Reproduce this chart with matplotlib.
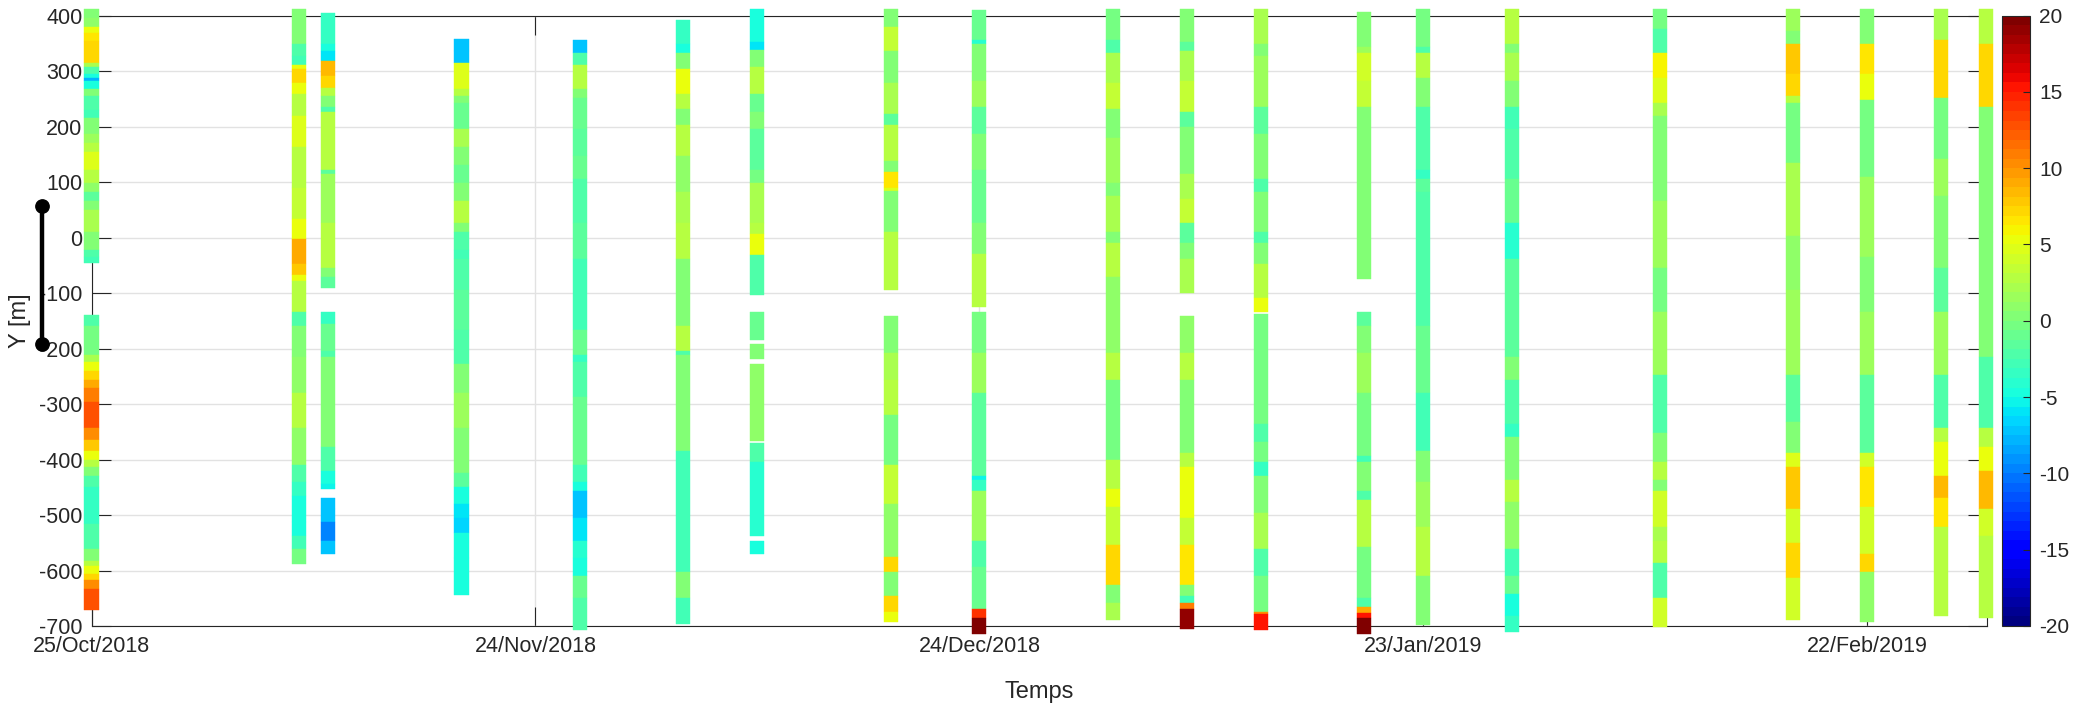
import numpy as np
import matplotlib
matplotlib.use("Agg")
import matplotlib.pyplot as plt
import matplotlib.dates as mdates
from matplotlib.colors import Normalize
from datetime import datetime

plt.rcParams['font.family'] = ['Liberation Sans', 'DejaVu Sans']
plt.rcParams['axes.unicode_minus'] = False

nan = np.nan

# profile dates (one vertical strip per survey)
dates = ['2018-10-25', '2018-11-08', '2018-11-10', '2018-11-19', '2018-11-27',
         '2018-12-04', '2018-12-09', '2018-12-18', '2018-12-24', '2019-01-02',
         '2019-01-07', '2019-01-12', '2019-01-19', '2019-01-23', '2019-01-29',
         '2019-02-08', '2019-02-17', '2019-02-22', '2019-02-27', '2019-03-02']

# each strip: cell edges along Y [m] (top -> bottom) and the value in each cell (nan = no data)
s01_y = [412, 395, 380, 368, 355, 315, 307, 295, 288, 283, 267, 255, 230, 215, 187, 170, 155, 122, 98, 82,
         66, 50, 10, -22, -35, -45, -139, -159, -212, -224, -240, -256, -272, -296, -344, -364, -385, -401,
         -413, -429, -449, -517, -562, -582, -592, -606, -618, -634, -672]
s01_v = [0, 1, 5, 6.5, 7, 2, -2, -5, -8, -5, 0, -2, -3, 0, 1.5, 3, 4.5, 2.5, 1, -1.5, 0.5, 2, 0, -2, -3,
         nan, -2, -0.5, 2, 5, 7, 9, 11, 12.5, 10, 8, 5.5, 3, 0, -2.5, -3.5, -2, 0, 3, 5, 7, 10, 12.5]

s02_y = [412, 348, 328, 311, 303, 279, 259, 235, 219, 163, 90, 34, -2, -47, -67, -79, -135, -159, -216,
         -280, -344, -409, -441, -465, -513, -537, -562, -588]
s02_v = [0, -2, -3, 5, 7, 5, 2.5, 3, 4.5, 3, 3.5, 5.5, 9, 8, 5, 2.5, -2, 0, 1, 3, 1, -2, -3.5, -5, -4.5,
         -3, -0.5]

s03_y = [404, 348, 336, 318, 291, 269, 255, 235, 227, 122, 114, 26, -55, -71, -91, -135, -155, -204, -216,
         -377, -421, -445, -453, -469, -489, -513, -546, -570]
s03_v = [-3.5, -5, -6, 8.5, 7, 2.5, 0, -2.5, 2.5, -1.5, 1.5, 3, 0, -1.5, nan, -3.5, -1, -2, 0, -2, -4.5,
         -5.5, nan, -7.5, -7, -9.5, -7]

s04_y = [357, 336, 315, 267, 255, 243, 195, 163, 130, 98, 66, 26, 10, -22, -39, -95, -167, -228, -280,
         -344, -425, -449, -481, -505, -533, -578, -644]
s04_v = [-7, -7.5, 4.5, 2.5, 0, -1, 2, 0.5, -1, 0.5, 2.5, 0, -2, -3, -2, -1.5, -2.5, 0, 1.5, 0, -1.5,
         -4.5, -6, -6.5, -5, -4.8]

s05_y = [356, 333, 311, 267, 251, 195, 147, 106, 26, -39, -167, -212, -224, -288, -409, -441, -457, -505,
         -546, -578, -610, -650, -708]
s05_v = [-7, -2, 2.5, 0, -1, -1.5, -1, -2, -1.5, -3, -1, -3.5, -2, -1, -3, -5, -7.5, -6, -4, -5, -1, -2.5]

s06_y = [392, 348, 333, 303, 259, 231, 203, 147, 82, 26, -39, -159, -204, -212, -385, -602, -650, -697]
s06_v = [-3.5, -5, 0, 5, 2.5, 0, 2.5, 1, 2, 3, 0, 3, -2, 0.5, -3, 0, -3]

s07_y = [412, 352, 338, 307, 259, 227, 195, 122, 98, 26, 6, -32, -103, -135, -185, -191, -218, -228, -367,
         -371, -405, -537, -546, -570]
s07_v = [-4.5, -6, 0, 3, -1, 0, -1.5, -0.5, 2, 3, 5, -2, nan, -1, nan, 0.5, nan, 1, nan, -2, -4, nan, -5]

s08_y = [412, 380, 336, 279, 223, 203, 138, 118, 90, 84, 10, -95, -141, -208, -256, -320, -409, -481,
         -576, -602, -646, -674, -693]
s08_v = [0, 3.5, 0.5, 2, -1.5, 2.5, 0.5, 6.5, 4.5, 0.5, 2.5, nan, 0, 2, 3, -0.5, 3.5, 1, 7, 0.5, 7, 5]

s09_y = [410, 356, 348, 283, 235, 187, 122, 26, -30, -125, -135, -208, -280, -429, -437, -457, -546, -594,
         -670, -686, -714]
s09_v = [-1, -4, 0, 1.5, -1.5, 0, -1, 0, 3, nan, -0.5, 1.5, -1.5, -5.5, -3.5, 1.5, -2, -1, 14, 20]

s10_y = [412, 356, 333, 279, 231, 179, 98, 74, 10, -10, -71, -208, -256, -401, -453, -485, -554, -626,
         -658, -689]
s10_v = [-0.5, -2.5, 2, 3.5, 0.5, 1.5, 0, 2, 0.5, 3, 1, 2.5, -0.5, 2.5, 5, 3.5, 7, 0, 2]

s11_y = [412, 352, 336, 283, 227, 199, 114, 70, 26, -10, -39, -100, -142, -208, -256, -389, -413, -505,
         -554, -626, -646, -658, -670, -705]
s11_v = [0, -1.5, 2, 3.5, -1.5, 0, 2, 3.5, -1.5, 0, 2, nan, 1, 3, 0, 2.5, 5, 3.5, 6.5, 0, -3, 11, 19]

s12_y = [412, 348, 328, 235, 187, 106, 82, 10, -10, -47, -109, -135, -138, -336, -369, -405, -429, -497,
         -562, -610, -674, -678, -707]
s12_v = [2, 0, 1.5, -1.5, 0, -2, 0.5, -2, 0, 2.5, 5, nan, -0.5, -2, -0.5, -3.5, 0, 2, -2.5, -0.5, 10, 15]

s13_y = [406, 344, 332, 283, 235, 195, -75, -135, -159, -208, -280, -393, -405, -457, -473, -558, -650,
         -666, -676, -686, -714]
s13_v = [0, 1.5, 4, 3.5, 0.5, 0, nan, -1.5, 0, 1.5, -0.5, -3, 0.5, -2, 3, -0.5, -2.5, 9, 15, 20]

s14_y = [412, 344, 333, 287, 235, 122, 106, 82, -159, -280, -385, -441, -521, -610, -698]
s14_v = [-0.5, -2, 2.5, 0.5, -2.5, -3.5, -1.5, -2.5, -1, -3, 0, 1.5, 2.5, 0.5]

s15_y = [412, 348, 332, 283, 235, 195, 106, 26, -39, -216, -256, -336, -360, -437, -477, -562, -610,
         -642, -682, -711]
s15_v = [2.5, 0, 2, 0, -3, -2.5, -1, -4, -1.5, 0, -2, -3.5, 0.5, 3, 1, -3, -1, -4.5, -3.5]

s16_y = [412, 376, 333, 287, 243, 219, 66, -55, -135, -248, -352, -405, -437, -457, -521, -546, -586,
         -650, -702]
s16_v = [-0.5, -2, 6, 4.5, 2, 0, 1.5, -0.5, 1.5, -2.5, 0.5, 3, 0, 4, 2, 3, -2, 4]

s17_y = [412, 372, 348, 295, 255, 243, 134, 2, -95, -248, -332, -389, -413, -489, -550, -614, -689]
s17_v = [1.5, 0, 7.5, 7, 2.5, -0.5, 2, 1, 1.5, -1.5, 0.5, 4.5, 7.5, 4, 7, 4]

s18_y = [412, 348, 295, 247, 110, -35, -135, -248, -389, -413, -485, -570, -602, -692]
s18_v = [0.5, 6.5, 5, -0.5, 1.5, 0.5, 1.5, -1.5, 4, 6.5, 4, 7, 1]

s19_y = [412, 356, 251, 142, 74, -55, -135, -248, -344, -369, -429, -469, -521, -682]
s19_v = [2, 7, -0.5, 1.5, 0, -1.5, 1.5, -2, 2.5, 5, 8.5, 6.5, 2.5]

s20_y = [412, 348, 235, 10, -216, -344, -377, -421, -489, -537, -685]
s20_v = [2.5, 7, 0, 0.5, -2, 3, 5, 8.5, 4, 2.5]

strips_y = [s01_y, s02_y, s03_y, s04_y, s05_y, s06_y, s07_y, s08_y, s09_y, s10_y,
            s11_y, s12_y, s13_y, s14_y, s15_y, s16_y, s17_y, s18_y, s19_y, s20_y]
strips_v = [s01_v, s02_v, s03_v, s04_v, s05_v, s06_v, s07_v, s08_v, s09_v, s10_v,
            s11_v, s12_v, s13_v, s14_v, s15_v, s16_v, s17_v, s18_v, s19_v, s20_v]

# black segment drawn left of the axis
line_date = '2018-10-21 16:00'
line_y = [57, -192]

x_ticks = ['2018-10-25', '2018-11-24', '2018-12-24', '2019-01-23', '2019-02-22']
x_range = ['2018-10-25', '2019-03-02 02:00']

dark = '#262626'
cmap = plt.get_cmap('jet', 64)
norm = Normalize(-20, 20)

def dnum(s):
    return mdates.date2num(datetime.fromisoformat(s))

fig = plt.figure(figsize=(20.76, 7.09), dpi=100)
ax = fig.add_axes([0.04408, 0.11707, 0.91305, 0.86093])

for d, ys, vs in zip(dates, strips_y, strips_v):
    ys = np.array(ys, float)
    vs = np.array(vs, float)
    top, bot = ys[:-1], ys[1:]
    ok = ~np.isnan(vs)
    cols = cmap(norm(vs[ok]))
    ax.bar(np.full(ok.sum(), dnum(d)), (top - bot)[ok], bottom=bot[ok], width=0.95,
           color=cols, edgecolor=cols, linewidth=0.3, clip_on=False, zorder=3)

lx = dnum(line_date)
ax.plot([lx, lx], line_y, '-o', color='k', lw=3.2, ms=9.6, clip_on=False, zorder=5)

ax.set_xlim(dnum(x_range[0]), dnum(x_range[1]))
ax.set_ylim(-700, 400)
ax.set_xticks([dnum(t) for t in x_ticks])
ax.xaxis.set_major_formatter(mdates.DateFormatter('%d/%b/%Y'))
ax.set_yticks(np.arange(-700, 401, 100))

ax.grid(True, color='#e2e2e2', lw=1.0)
ax.set_axisbelow(True)
for sp in ax.spines.values():
    sp.set_color(dark)
    sp.set_linewidth(0.8)
ax.tick_params(axis='both', which='major', direction='in', top=True, right=True,
               length=13.7, width=0.8, color=dark, labelcolor=dark, labelsize=15.5)
ax.tick_params(axis='x', pad=7.5)
ax.tick_params(axis='y', pad=6.4)

ax.set_xlabel('Temps', fontsize=17, color=dark)
ax.set_ylabel('Y [m]', fontsize=17, color=dark)
ax.xaxis.set_label_coords(0.5, -0.09)
ax.yaxis.set_label_coords(-0.032, 0.5)

cax = fig.add_axes([0.96435, 0.11707, 0.01349, 0.86093])
sm = matplotlib.cm.ScalarMappable(norm=norm, cmap=cmap)
cb = fig.colorbar(sm, cax=cax, ticks=np.arange(-20, 21, 5))
cb.ax.tick_params(direction='in', length=5, width=0.8, color=dark, labelcolor=dark,
                  labelsize=15, pad=6.5)
cb.outline.set_linewidth(0.8)
cb.outline.set_edgecolor(dark)

fig.savefig('out.png', dpi=100)
